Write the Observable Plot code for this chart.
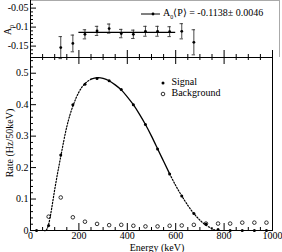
<!DOCTYPE html>
<html><head><meta charset="utf-8">
<script src="https://cdn.jsdelivr.net/npm/d3@7"></script>
<script src="https://cdn.jsdelivr.net/npm/@observablehq/plot@0.6"></script>
<style>
body{margin:0;background:#fff;}
#wrap{position:relative;width:282px;height:252px;font-family:"Liberation Serif",serif;color:#000;overflow:hidden;}
#topPanel,#botPanel{position:absolute;left:0;}
#topPanel{top:0;}
#botPanel{top:57px;}
#tborder{position:absolute;left:30px;top:0;width:250px;height:57px;border-top:1px solid #aaa;border-right:1px solid #aaa;box-sizing:border-box;}
.lab{position:absolute;font-size:10px;white-space:nowrap;line-height:1;}
.rot{transform:translate(-50%,-50%) rotate(-90deg);}
svg{overflow:visible;}
</style></head><body>
<div id="wrap">
  <div id="tborder"></div>
  <div id="topPanel"></div>
  <div id="botPanel"></div>
  <div class="lab rot" style="left:9px;top:30px;">A<sub style="font-size:6px">0</sub></div>
  <div class="lab rot" style="left:10px;top:143px;">Rate (Hz/50keV)</div>
  <div class="lab" style="left:157px;top:243px;transform:translateX(-50%);">Energy (keV)</div>
  <div id="tleg" class="lab" style="left:141px;top:8px;"></div>
  <div id="bleg" class="lab" style="left:159px;top:77px;"></div>
</div>
<script>
// ---- data ----
const energies = [25,75,125,175,225,275,325,375,425,475,525,575,625,675,725,775,825,875,925,975];
const signal = [0,0.016,0.24,0.40,0.465,0.483,0.476,0.448,0.40,0.337,0.259,0.18,0.11,0.054,0.021,0.003,0,0,0,0];
const bgEnergies = [75,125,175,225,275,325,375,425,475,525,575,625,675,725,775,825,875,925,975];
const background = [0.044,0.105,0.042,0.028,0.021,0.017,0.018,0.015,0.013,0.013,0.015,0.016,0.018,0.022,0.022,0.022,0.025,0.025,0.025];

const asymEnergies = [125,175,225,275,325,375,425,475,525,575,625,675];
const asym = [-0.154,-0.143,-0.119,-0.110,-0.104,-0.117,-0.119,-0.111,-0.111,-0.112,-0.111,-0.140];
const asymErr = [0.029,0.022,0.012,0.012,0.012,0.011,0.011,0.013,0.013,0.013,0.020,0.033];
const fitA0 = -0.1138, fitA0Err = 0.0046;
const asymFitRange = [200, 600];

const curveEnergies = [55,75,100,125,150,175,200,225,250,275,300,325,350,375,400,425,450,475,500,525,550,575,600,625,650,675,700,725,750,765];
const curveValues = [0,0.02,0.13,0.235,0.33,0.395,0.44,0.467,0.481,0.486,0.484,0.476,0.463,0.447,0.425,0.40,0.37,0.337,0.30,0.26,0.22,0.18,0.143,0.11,0.08,0.054,0.033,0.017,0.006,0];
const rateFitRange = [250, 575];

const xMajor = [0,200,400,600,800,1000];
const xMinor = [50,100,150,250,300,350,450,500,550,650,700,750,850,900,950];
const yTopMajor = [-0.05,-0.1,-0.15];
const yTopMinor = [-0.04,-0.06,-0.07,-0.08,-0.09,-0.11,-0.12,-0.13,-0.14,-0.16,-0.17];
const yBotMajor = [0,0.1,0.2,0.3,0.4,0.5];
const yBotMinor = [0.02,0.04,0.06,0.08,0.12,0.14,0.16,0.18,0.22,0.24,0.26,0.28,0.32,0.34,0.36,0.38,0.42,0.44,0.46,0.48,0.52,0.54];

// ---- layout ----
const W = 282, ML = 30, MR = 10;
const PW = W - ML - MR;
const TOPH = 62, TOPMB = 5, TOPPH = TOPH - TOPMB;
const BOTH = 195, BOTMB = 22, BOTPH = BOTH - BOTMB;
const font = {fontFamily:"Liberation Serif, serif", fontSize:"10px", background:"transparent", overflow:"visible"};

const rateData = energies.map((e,i)=>({e, v: signal[i]}));
const bgData = bgEnergies.map((e,i)=>({e, v: background[i]}));
const asymData = asymEnergies.map((e,i)=>({e, a: asym[i], err: asymErr[i]}));
const curve = curveEnergies.map((e,i)=>({e, v: curveValues[i]}));
const curveL = curve.filter(d=>d.e<=rateFitRange[0]);
const curveM = curve.filter(d=>d.e>=rateFitRange[0] && d.e<=rateFitRange[1]);
const curveR = curve.filter(d=>d.e>=rateFitRange[1]);

const topChart = Plot.plot({
  width: W, height: TOPH, marginLeft: ML, marginRight: MR, marginTop: 0, marginBottom: TOPMB,
  style: font,
  x: {domain: [0, 1000], axis: null},
  y: {domain: [-0.18, -0.03]},
  marks: [
    Plot.axisY(yTopMajor, {tickSize: 0, tickPadding: 2, tickFormat: d => String(d), fontSize: 10, label: null}),
    Plot.tickY(yTopMinor, {y: d=>d, insetRight: PW - 3, stroke: "#000"}),
    Plot.tickY(yTopMajor, {y: d=>d, insetRight: PW - 6, stroke: "#000"}),
    Plot.tickX(xMinor, {x: d=>d, insetTop: TOPPH - 3, stroke: "#000"}),
    Plot.tickX(xMajor, {x: d=>d, insetTop: TOPPH - 7, stroke: "#000"}),
    Plot.ruleX([0], {stroke: "#000"}),
    Plot.ruleY([-0.18], {stroke: "#000"}),
    Plot.ruleX(asymData, {x: "e", y1: d=>d.a-d.err, y2: d=>d.a+d.err, stroke: "#333", strokeWidth: 0.9}),
    Plot.ruleY(asymData, {y: d=>d.a-d.err, x1: d=>d.e-7, x2: d=>d.e+7, stroke: "#333", strokeWidth: 0.9}),
    Plot.ruleY(asymData, {y: d=>d.a+d.err, x1: d=>d.e-7, x2: d=>d.e+7, stroke: "#333", strokeWidth: 0.9}),
    Plot.ruleY([fitA0], {x1: asymFitRange[0], x2: asymFitRange[1], stroke: "#000", strokeWidth: 1.3}),
    Plot.dot(asymData, {x: "e", y: "a", r: 1.4, fill: "#000", stroke: "none"})
  ]
});
document.getElementById("topPanel").appendChild(topChart);

const botChart = Plot.plot({
  width: W, height: BOTH, marginLeft: ML, marginRight: MR, marginTop: 0, marginBottom: BOTMB,
  style: font,
  x: {domain: [0, 1000]},
  y: {domain: [0, 0.55]},
  marks: [
    Plot.frame({stroke: "#000"}),
    Plot.axisY(yBotMajor, {tickSize: 0, tickPadding: 2, tickFormat: d => String(d), fontSize: 10, label: null}),
    Plot.axisX(xMajor, {tickSize: 0, tickPadding: 1, tickFormat: d => String(d), fontSize: 10, label: null}),
    Plot.tickY(yBotMinor, {y: d=>d, insetRight: PW - 3, stroke: "#000"}),
    Plot.tickY(yBotMajor, {y: d=>d, insetRight: PW - 6, stroke: "#000"}),
    Plot.tickX(xMinor, {x: d=>d, insetTop: BOTPH - 3, stroke: "#000"}),
    Plot.tickX(xMajor, {x: d=>d, insetTop: BOTPH - 7, stroke: "#000"}),
    Plot.tickX(xMinor, {x: d=>d, insetBottom: BOTPH - 3, stroke: "#000"}),
    Plot.tickX(xMajor, {x: d=>d, insetBottom: BOTPH - 7, stroke: "#000"}),
    Plot.line(curveL, {x: "e", y: "v", curve: "natural", stroke: "#000", strokeWidth: 1.2, strokeDasharray: "1.3,1.7"}),
    Plot.line(curveM, {x: "e", y: "v", curve: "natural", stroke: "#000", strokeWidth: 1.3}),
    Plot.line(curveR, {x: "e", y: "v", curve: "natural", stroke: "#000", strokeWidth: 1.2, strokeDasharray: "1.3,1.7"}),
    Plot.dot(bgData, {x: "e", y: "v", r: 1.8, stroke: "#000", strokeWidth: 0.8, fill: "none"}),
    Plot.dot(rateData, {x: "e", y: "v", r: 1.5, fill: "#000", stroke: "none"})
  ]
});
document.getElementById("botPanel").appendChild(botChart);

// legends
document.getElementById("tleg").innerHTML =
  `<svg width="20" height="10" style="vertical-align:middle"><line x1="0" x2="19" y1="5" y2="5" stroke="#000" stroke-width="1"/><circle cx="12" cy="5" r="1.4" fill="#000"/></svg>` +
  ` A<sub style="font-size:6px">0</sub>⟨P⟩ = ${fitA0}± ${fitA0Err}`;
document.getElementById("bleg").innerHTML =
  `<div style="height:11px"><svg width="10" height="10" style="vertical-align:middle"><circle cx="4" cy="5" r="1.5" fill="#000"/></svg> Signal</div>` +
  `<div style="height:11px"><svg width="10" height="10" style="vertical-align:middle"><circle cx="4" cy="5" r="1.8" fill="none" stroke="#000" stroke-width="0.8"/></svg> Background</div>`;
</script>
</body></html>
